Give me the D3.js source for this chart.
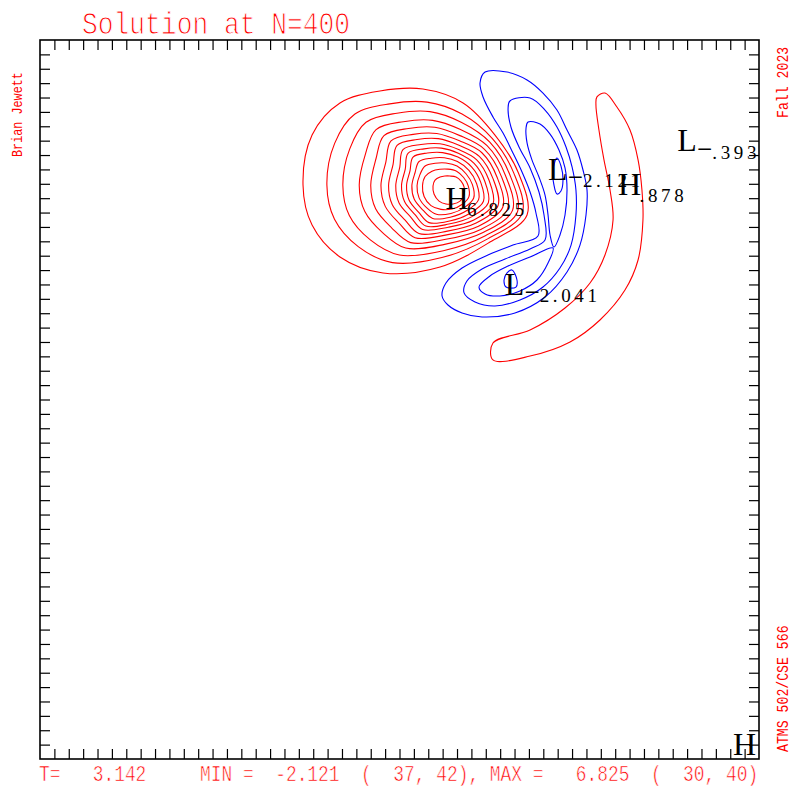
<!DOCTYPE html>
<html><head><meta charset="utf-8">
<script src="https://cdn.jsdelivr.net/npm/d3@7"></script>
<style>html,body{margin:0;padding:0;background:#fff;} svg{display:block;}</style>
</head><body>
<svg id="chart" width="800" height="800"></svg>
<script>
// ---------- data (grid coordinates i,j on a 51x51 grid) ----------
const titleText = "Solution at N=400";
const footerText = "T=   3.142     MIN =  -2.121  (  37, 42), MAX =   6.825  (  30, 40)";
const leftNote = "Brian Jewett";
const rightTopNote = "Fall 2023";
const rightBottomNote = "ATMS 502/CSE 566";
const gridSize = 51;
const tickIndices = d3.range(2, gridSize);

const extremaKind  = ["H", "L", "H", "L", "L", "H"];
const extremaI     = [30, 37, 42, 46, 34, 50];
const extremaJ     = [40, 42, 41, 44, 34, 2];
const extremaValue = ["6.825", "-2.121", ".878", "-.393", "-2.041", ""];

// positive contours (red): nested rings around the 6.825 maximum, outer to inner
const positiveRings = [
 [[19.29,40.92],[19.92,44.39],[21.86,46.62],[24.64,47.45],[27.63,47.59],[30.42,46.62],[32.64,44.39],[34.24,41.82],[34.87,38.83],[32.29,36.95],[28.82,35.21],[24.85,34.80],[21.86,35.91],[19.92,38.13]],
 [[20.95,40.91],[21.49,43.81],[22.90,45.85],[25.32,46.56],[27.91,46.68],[30.35,45.85],[32.46,44.14],[33.95,41.74],[34.53,38.94],[32.13,37.17],[28.95,35.87],[25.51,35.52],[23.13,36.63],[21.48,38.53]],
 [[22.06,40.90],[22.54,43.43],[23.67,45.28],[25.82,45.91],[28.12,46.02],[30.29,45.28],[32.28,43.90],[33.66,41.66],[34.20,39.04],[31.97,37.39],[29.05,36.35],[25.99,36.05],[23.97,37.10],[22.51,38.79]],
 [[23.20,40.89],[23.62,43.03],[24.37,44.77],[26.27,45.32],[28.31,45.41],[30.24,44.77],[32.09,43.65],[33.37,41.58],[33.86,39.15],[31.81,37.61],[29.14,36.79],[26.43,36.53],[24.84,37.59],[23.59,39.07]],
 [[24.00,40.88],[24.37,42.76],[24.92,44.35],[26.63,44.85],[28.46,44.93],[30.20,44.35],[31.91,43.40],[33.09,41.50],[33.52,39.26],[31.65,37.83],[29.22,37.14],[26.78,36.91],[25.45,37.94],[24.34,39.26]],
 [[24.71,40.88],[25.05,42.51],[25.41,43.99],[26.95,44.44],[28.59,44.50],[30.17,43.99],[31.73,43.16],[32.80,41.42],[33.18,39.37],[31.49,38.05],[29.28,37.45],[27.08,37.25],[25.99,38.24],[25.01,39.43]],
 [[25.24,40.87],[25.55,42.33],[25.83,43.68],[27.22,44.08],[28.70,44.14],[30.14,43.68],[31.55,42.91],[32.51,41.34],[32.85,39.47],[31.33,38.27],[29.33,37.71],[27.35,37.54],[26.39,38.47],[25.50,39.55]],
 [[25.74,40.87],[26.02,42.16],[26.24,43.38],[27.49,43.73],[28.81,43.78],[30.11,43.38],[31.37,42.67],[32.22,41.26],[32.51,39.58],[31.17,38.48],[29.39,37.98],[27.61,37.82],[26.78,38.69],[25.97,39.67]],
 [[26.14,40.87],[26.40,42.02],[26.59,43.12],[27.71,43.43],[28.91,43.48],[30.09,43.12],[31.19,42.42],[31.93,41.18],[32.18,39.68],[31.01,38.70],[29.43,38.20],[27.83,38.06],[27.08,38.86],[26.35,39.77]],
 [[26.49,40.86],[26.73,41.90],[26.94,42.86],[27.94,43.14],[29.00,43.17],[30.06,42.86],[31.01,42.18],[31.65,41.10],[31.84,39.79],[30.85,38.92],[29.48,38.41],[28.05,38.30],[27.34,39.01],[26.67,39.85]],
 [[26.86,40.86],[27.08,41.77],[27.36,42.55],[28.21,42.78],[29.12,42.81],[30.03,42.55],[30.83,41.93],[31.36,41.02],[31.50,39.90],[30.69,39.14],[29.53,38.68],[28.31,38.59],[27.63,39.17],[27.02,39.94]],
 [[27.22,40.86],[27.42,41.64],[27.78,42.24],[28.48,42.43],[29.23,42.45],[30.00,42.24],[30.64,41.68],[31.07,40.94],[31.16,40.01],[30.53,39.36],[29.58,38.94],[28.57,38.88],[27.90,39.32],[27.36,40.02]],
 [[27.60,40.86],[27.78,41.51],[28.26,41.88],[28.80,42.01],[29.36,42.02],[29.97,41.88],[30.46,41.44],[30.78,40.86],[30.83,40.11],[30.37,39.58],[29.65,39.25],[28.88,39.22],[28.19,39.48],[27.71,40.12]],
 [[28.33,40.85],[28.47,41.26],[28.82,41.47],[29.16,41.54],[29.51,41.54],[29.93,41.47],[30.28,41.19],[30.49,40.78],[30.49,40.22],[30.21,39.80],[29.72,39.60],[29.23,39.60],[28.75,39.80],[28.40,40.29]]
];
// positive contour (red) around the .878 maximum
const positiveCrescent = [[39.73,47.04],[40.29,47.31],[41.12,46.34],[42.03,44.74],[42.59,42.66],[42.86,40.57],[42.93,38.48],[42.59,35.70],[41.68,33.61],[39.94,31.53],[37.86,30.00],[35.08,29.02],[32.50,28.75],[32.50,29.93],[35.08,30.83],[37.51,32.36],[39.25,34.10],[40.29,36.05],[40.85,38.48],[40.64,40.57],[40.22,42.66],[39.87,44.74],[39.66,46.48]];

// negative contours (blue)
const negativeContours = [
 [[31.95,48.77],[33.48,48.77],[34.87,48.22],[35.98,47.31],[36.95,46.13],[37.65,44.74],[38.34,43.35],[38.76,41.96],[39.04,40.57],[38.97,38.83],[38.55,36.74],[37.65,34.87],[36.12,33.13],[34.03,32.02],[31.74,31.74],[30.35,32.02],[29.37,32.57],[28.96,33.20],[29.23,34.10],[30.35,35.14],[32.15,36.05],[33.89,36.74],[35.63,37.37],[35.49,38.97],[35.08,40.43],[34.52,41.82],[33.89,43.14],[33.20,44.53],[32.50,45.65],[31.81,47.04],[31.60,48.01]],
 [[33.68,46.76],[35.08,46.97],[36.12,46.13],[36.95,44.95],[37.58,43.56],[38.00,42.17],[38.27,40.57],[38.27,38.83],[37.93,36.74],[37.16,35.14],[35.98,33.82],[34.38,32.92],[32.64,32.50],[31.25,32.78],[30.49,33.41],[30.69,34.24],[31.74,35.07],[33.34,35.77],[35.08,36.47],[36.12,37.09],[36.05,38.83],[35.70,40.43],[35.08,42.10],[34.31,43.56],[33.75,44.95],[33.55,46.20]],
 [[34.94,45.30],[35.77,45.16],[36.47,44.46],[37.09,43.35],[37.51,42.10],[37.65,40.57],[37.51,38.83],[37.16,37.44],[36.74,36.60],[36.47,37.44],[36.33,38.83],[36.12,40.22],[35.70,41.47],[35.21,42.66],[34.87,43.84],[34.80,44.88]],
 [[31.53,33.82],[32.29,34.59],[33.55,35.28],[35.08,35.91],[36.67,36.54],[36.33,35.49],[35.56,34.31],[34.38,33.55],[32.99,33.20],[31.95,33.34]],
 [[36.95,42.79],[37.23,42.24],[37.37,41.26],[37.23,40.50],[36.95,40.29],[36.74,40.92],[36.67,41.96]],
 [[33.48,34.80],[33.82,35.01],[34.17,34.31],[34.10,33.82],[33.41,33.82],[33.27,34.31]]
];

// ---------- drawing ----------
const svg = d3.select("#chart");
const L = 40, R = 759, T = 40, B = 759;
const x = d3.scaleLinear().domain([1, gridSize]).range([L, R]);
const y = d3.scaleLinear().domain([1, gridSize]).range([B, T]);

const red = "#ff0000", blue = "#0000ff";
const line = d3.line().x(d => x(d[0])).y(d => y(d[1])).curve(d3.curveCatmullRomClosed.alpha(0.5));

const cg = svg.append("g").attr("fill", "none").attr("stroke-width", 1.1);
cg.selectAll("path.pos").data(positiveRings.concat([positiveCrescent])).join("path")
  .attr("class", "pos").attr("d", line).attr("stroke", red);
cg.selectAll("path.neg").data(negativeContours).join("path")
  .attr("class", "neg").attr("d", line).attr("stroke", blue);

// frame and ticks
const tick = 10;
function styleAxis(g) { g.select(".domain").remove(); g.selectAll("line").attr("stroke", "#000").attr("stroke-width", 1.2); }
svg.append("g").attr("transform", `translate(0,${T})`)
  .call(d3.axisTop(x).tickValues(tickIndices).tickSize(-tick).tickFormat("")).call(styleAxis);
svg.append("g").attr("transform", `translate(0,${B})`)
  .call(d3.axisBottom(x).tickValues(tickIndices).tickSize(-tick).tickFormat("")).call(styleAxis);
svg.append("g").attr("transform", `translate(${L},0)`)
  .call(d3.axisLeft(y).tickValues(tickIndices).tickSize(-tick).tickFormat("")).call(styleAxis);
svg.append("g").attr("transform", `translate(${R},0)`)
  .call(d3.axisRight(y).tickValues(tickIndices).tickSize(-tick).tickFormat("")).call(styleAxis);
svg.append("rect").attr("x", L).attr("y", T).attr("width", R - L).attr("height", B - T)
  .attr("fill", "none").attr("stroke", "#000").attr("stroke-width", 1.6);

// extrema labels
const ext = extremaKind.map((k, n) => ({k, i: extremaI[n], j: extremaJ[n], v: extremaValue[n]}));
const eg = svg.append("g").attr("font-family", "'Liberation Serif', 'DejaVu Serif', serif").attr("fill", "#000");
eg.selectAll("text.sym").data(ext).join("text").attr("class", "sym")
  .attr("x", d => x(d.i)).attr("y", d => y(d.j) + 10.8)
  .attr("text-anchor", "middle").attr("font-size", 32).text(d => d.k);
const vt = eg.selectAll("text.val").data(ext).join("text").attr("class", "val")
  .attr("x", d => x(d.i) + 10).attr("y", d => y(d.j) + 18)
  .attr("font-size", 19).attr("letter-spacing", 3.6);
vt.filter(d => d.v.startsWith("-")).append("tspan").attr("font-size", 27).attr("dy", -1).attr("letter-spacing", 0).text("\u2212");
vt.append("tspan").attr("dy", d => d.v.startsWith("-") ? 1 : 0).text(d => d.v.replace("-", ""));

// red annotation texts
const mono = "'Liberation Mono', 'DejaVu Sans Mono', monospace";
function monoText(str, tx, ty, rot, size, sy, thin) {
  const t = svg.append("text").attr("transform", `translate(${tx},${ty}) rotate(${rot}) scale(1,${sy})`)
    .attr("font-family", mono).attr("font-size", size).attr("fill", red)
    .attr("xml:space", "preserve").style("white-space", "pre").text(str);
  if (thin) t.attr("stroke", "#fff").attr("stroke-width", thin);
}
monoText(titleText, 82, 34, 0, 26.3, 1.2, 0.9);
monoText(footerText, 39, 781, 0, 17.9, 1.22, 0.5);
monoText(leftNote, 22, 157, -90, 11.8, 1.25, 0);
monoText(rightTopNote, 788, 118, -90, 13.2, 1.2, 0);
monoText(rightBottomNote, 788, 752, -90, 13.2, 1.2, 0);
</script>
</body></html>
